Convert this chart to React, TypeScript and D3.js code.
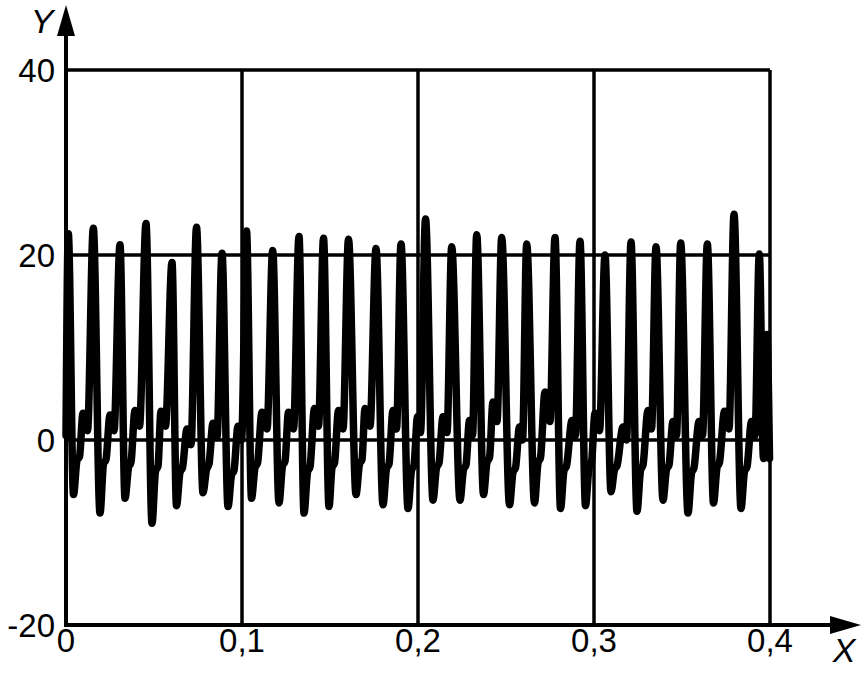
import React, { useEffect, useRef } from "react";
import * as d3 from "d3";

// signal samples; one row per spike:
// peak, trough, shoulder, shoulder, bump, dip
const sampleX = [
  0,
  0.00131, 0.00426, 0.00625, 0.00767, 0.00966, 0.01222,
  0.01551, 0.01932, 0.02131, 0.02273, 0.025, 0.02727,
  0.03068, 0.03352, 0.03551, 0.03693, 0.0392, 0.04176,
  0.04545, 0.04886, 0.05085, 0.05227, 0.05398, 0.05653,
  0.06023, 0.06278, 0.06477, 0.06619, 0.06875, 0.07102,
  0.07415, 0.07784, 0.07983, 0.08125, 0.08352, 0.0858,
  0.08864, 0.09205, 0.09403, 0.09545, 0.09773, 0.09972,
  0.10256, 0.1054, 0.10739, 0.10881, 0.11136, 0.1142,
  0.11744, 0.12102, 0.12301, 0.12443, 0.12642, 0.12926,
  0.13239, 0.13523, 0.13722, 0.13864, 0.14119, 0.14347,
  0.14631, 0.14943, 0.15114, 0.15256, 0.15483, 0.15739,
  0.16051, 0.16477, 0.16676, 0.16818, 0.16989, 0.17273,
  0.17614, 0.18011, 0.1821, 0.18352, 0.1858, 0.18778,
  0.19034, 0.19432, 0.19631, 0.19773, 0.19972, 0.20142,
  0.20426, 0.20852, 0.21051, 0.21193, 0.2142, 0.21648,
  0.21915, 0.22386, 0.22585, 0.22727, 0.22926, 0.23097,
  0.23335, 0.23722, 0.2392, 0.24063, 0.24261, 0.24489,
  0.24756, 0.25199, 0.25398, 0.2554, 0.25767, 0.25938,
  0.26176, 0.26619, 0.26818, 0.2696, 0.27216, 0.275,
  0.27784, 0.28097, 0.28295, 0.28438, 0.2875, 0.28949,
  0.29205, 0.29517, 0.29716, 0.29858, 0.30057, 0.30313,
  0.30625, 0.30966, 0.31165, 0.31307, 0.31648, 0.31847,
  0.32102, 0.32443, 0.32642, 0.32784, 0.33068, 0.33267,
  0.33523, 0.3392, 0.34119, 0.34261, 0.34489, 0.34688,
  0.34926, 0.35341, 0.3554, 0.35682, 0.35966, 0.36165,
  0.36438, 0.3679, 0.36989, 0.37131, 0.37415, 0.3767,
  0.37955, 0.38352, 0.38551, 0.38693, 0.38949, 0.39148,
  0.39392, 0.39631, 0.39818, 0.39972,
];

const sampleY = [
  0.5,
  22.3, -5.9, -2.2, -1.8, 2.9, 1.0,
  22.9, -7.9, -2.6, -2.1, 2.7, 1.0,
  21.1, -6.3, -3.0, -2.4, 3.2, 1.5,
  23.4, -9.0, -3.4, -2.8, 3.1, 1.5,
  19.2, -7.1, -3.5, -3.0, 1.2, -0.5,
  23.0, -5.7, -3.2, -2.6, 1.8, 0.3,
  20.2, -7.2, -3.8, -3.3, 1.5, 0,
  22.6, -6.3, -3.0, -2.5, 3.0, 1.2,
  20.5, -6.8, -2.8, -2.3, 3.0, 1.2,
  22.0, -7.9, -3.5, -2.9, 3.4, 1.5,
  21.8, -7.2, -3.0, -2.5, 3.2, 1.2,
  21.7, -5.9, -2.6, -2.1, 3.4, 1.5,
  20.7, -7.0, -3.1, -2.6, 3.2, 1.2,
  21.2, -7.4, -3.3, -2.7, 2.5, 0.8,
  23.9, -6.5, -3.0, -2.5, 2.5, 0.8,
  20.9, -6.5, -3.2, -2.7, 2.1, 0.5,
  22.2, -5.9, -2.4, -1.9, 4.1, 2.0,
  21.9, -7.0, -3.5, -3.0, 1.4, 0,
  21.2, -6.8, -2.5, -1.9, 5.2, 2.0,
  21.9, -7.4, -3.3, -2.8, 2.1, 0.5,
  21.5, -7.1, -3.0, -2.4, 2.9, 1.0,
  20.0, -5.6, -3.2, -2.8, 1.4, 0,
  21.4, -7.7, -3.3, -2.7, 3.2, 1.2,
  20.9, -6.5, -3.2, -2.7, 2.0, 0.5,
  21.3, -7.9, -3.6, -3.0, 2.0, 0.5,
  21.2, -6.8, -3.0, -2.4, 3.1, 1.2,
  24.4, -7.4, -3.4, -2.9, 2.0, 0.5,
  20.1, -2.0, 11.4, -2.0,
];

const xTicks = [0, 0.1, 0.2, 0.3, 0.4];
const xTickLabels = ["0", "0,1", "0,2", "0,3", "0,4"];
const yTicks = [-20, 0, 20, 40];

const W = 864;
const H = 673;

export default function App() {
  const ref = useRef<SVGSVGElement>(null);

  useEffect(() => {
    const svg = d3.select(ref.current);
    svg.selectAll("*").remove();

    const x = d3.scaleLinear().domain([0, 0.4]).range([66, 770]);
    const y = d3.scaleLinear().domain([-20, 40]).range([625, 70]);

    const font = "'Liberation Sans', Arial, sans-serif";

    // grid
    const grid = svg.append("g").attr("stroke", "#000").attr("stroke-width", 3.5);
    yTicks.filter((t) => t > -20).forEach((t) => {
      grid.append("line")
        .attr("x1", x(0)).attr("x2", x(0.4))
        .attr("y1", y(t)).attr("y2", y(t));
    });
    xTicks.filter((t) => t > 0).forEach((t) => {
      grid.append("line")
        .attr("x1", x(t)).attr("x2", x(t))
        .attr("y1", y(40)).attr("y2", y(-20));
    });

    // axes with arrows
    svg.append("line")
      .attr("x1", x(0)).attr("x2", x(0))
      .attr("y1", y(-20) + 2).attr("y2", 34)
      .attr("stroke", "#000").attr("stroke-width", 4);
    svg.append("line")
      .attr("x1", x(0) - 2).attr("x2", 832)
      .attr("y1", y(-20)).attr("y2", y(-20))
      .attr("stroke", "#000").attr("stroke-width", 4);
    svg.append("path")
      .attr("d", `M${x(0)},5 L${x(0) - 9},36 L${x(0) + 9},36 Z`)
      .attr("fill", "#000");
    svg.append("path")
      .attr("d", `M861,${y(-20)} L830,${y(-20) - 9} L830,${y(-20) + 9} Z`)
      .attr("fill", "#000");

    // signal
    const pts = sampleX.map((v, i) => [v, sampleY[i]] as [number, number]);
    const line = d3.line<[number, number]>()
      .x((d) => x(d[0]))
      .y((d) => y(d[1]))
      .curve(d3.curveMonotoneX);
    svg.append("path")
      .attr("d", line(pts))
      .attr("fill", "none")
      .attr("stroke", "#000")
      .attr("stroke-width", 7.5)
      .attr("stroke-linejoin", "round")
      .attr("stroke-linecap", "round");

    // tick labels
    yTicks.forEach((t) => {
      svg.append("text")
        .attr("x", 55)
        .attr("y", y(t) + 12)
        .attr("text-anchor", "end")
        .attr("font-family", font)
        .attr("font-size", 33)
        .text(t);
    });
    xTicks.forEach((t, i) => {
      svg.append("text")
        .attr("x", x(t))
        .attr("y", 652)
        .attr("text-anchor", "middle")
        .attr("font-family", font)
        .attr("font-size", 33)
        .text(xTickLabels[i]);
    });

    // axis names
    svg.append("text")
      .attr("x", 42).attr("y", 33)
      .attr("text-anchor", "middle")
      .attr("font-family", font)
      .attr("font-style", "italic")
      .attr("font-size", 34)
      .text("Y");
    svg.append("text")
      .attr("x", 844).attr("y", 662)
      .attr("text-anchor", "middle")
      .attr("font-family", font)
      .attr("font-style", "italic")
      .attr("font-size", 34)
      .text("X");
  }, []);

  return (
    <svg
      ref={ref}
      width={W}
      height={H}
      style={{ position: "absolute", left: 0, top: 0, background: "#fff" }}
    />
  );
}
